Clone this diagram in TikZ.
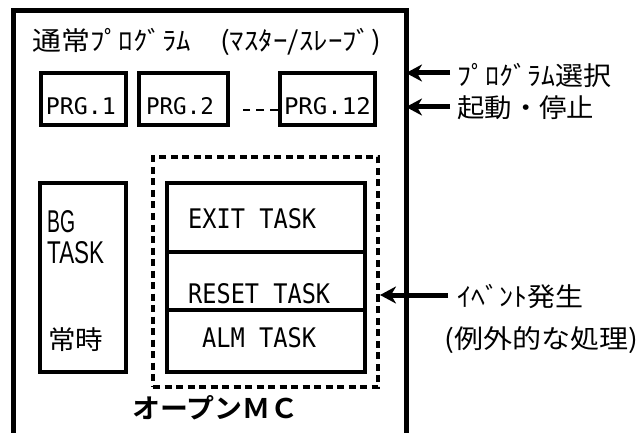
\documentclass[tikz,border=0pt]{standalone}
\usepackage{fontspec}
\usepackage{graphicx}
\setmainfont{Noto Sans CJK JP}
\newfontfamily\jpfont{Noto Sans CJK JP}[BoldFont={Noto Sans CJK JP Bold}]
\newfontfamily\monofont{DejaVu Sans Mono}
\newfontfamily\latinfont{Liberation Sans}
\usetikzlibrary{arrows.meta}

% stretch a text to a given width, keeping its height
\newcommand{\fitw}[2]{\resizebox{#1}{\height}{#2}}
% stretch a text to a given width and height
\newcommand{\fitwh}[3]{\resizebox{#1}{#2}{#3}}

\tikzset{
  frameline/.style={line width=5pt, line join=miter},
  boxline/.style={draw, line width=4pt, rectangle, inner sep=0pt},
  openmc/.style={draw, line width=4pt, dash pattern=on 7pt off 4.5pt, rectangle, inner sep=0pt},
  jp/.style={inner sep=0pt, anchor=west, font=\jpfont\fontsize{26pt}{30pt}\selectfont},
  prgtxt/.style={inner sep=0pt, font=\monofont\fontsize{23pt}{26pt}\selectfont},
  tasktxt/.style={inner sep=0pt, anchor=west, font=\monofont\fontsize{23pt}{26pt}\selectfont},
  bgtxt/.style={inner sep=0pt, anchor=west, font=\latinfont\fontsize{20pt}{24pt}\selectfont},
  bigarrow/.style={line width=5pt, -{Stealth[length=16pt, width=17pt, inset=5pt]}},
  dashlink/.style={line width=2pt, dash pattern=on 8pt off 6pt}
}

\begin{document}
\begin{tikzpicture}[x=1pt, y=-1pt]
\useasboundingbox (0,0) rectangle (638,433);
\fill[white] (0,0) rectangle (638,433);

% outer frame, open at the bottom
\coordinate (fbl) at (13.5,440);
\coordinate (ftl) at (13.5,10.5);
\coordinate (ftr) at (406,10.5);
\coordinate (fbr) at (406,440);
\draw[frameline] (fbl) -- (ftl) -- (ftr) -- (fbr);

\node[jp] (title) at (32,42) {\fitw{349pt}{通常ﾌﾟﾛｸﾞﾗﾑ　(ﾏｽﾀｰ/ｽﾚｰﾌﾞ)}};

% program slots
\node[boxline, minimum width=85pt, minimum height=52pt] (p1) at (83.5,99) {};
\node[boxline, minimum width=89pt, minimum height=52pt] (p2) at (183.5,99) {};
\node[boxline, minimum width=95pt, minimum height=52pt] (p12) at (327.5,99) {};
\node[prgtxt] (p1t) at (81,106.5) {\fitwh{70pt}{17pt}{PRG.1}};
\node[prgtxt] (p2t) at (180,106.5) {\fitwh{68pt}{17pt}{PRG.2}};
\node[prgtxt] (p12t) at (327.5,106.5) {\fitwh{87pt}{17pt}{PRG.12}};
\coordinate (dashend) at (243,110);
\draw[dashlink] (dashend -| p12.west) -- (dashend);

% background task
\node[boxline, minimum width=86pt, minimum height=189pt] (bg) at (83,277.5) {};
\node[bgtxt] (bg1) at (47,222) {\fitwh{28pt}{22pt}{BG}};
\node[bgtxt] (bg2) at (47,253) {\fitwh{57pt}{22pt}{TASK}};
\node[jp] (bg3) at (48,340) {\fitw{55pt}{常時}};

% event tasks
\node[openmc, minimum width=225pt, minimum height=230pt] (omc) at (265.5,272) {};
\node[boxline, minimum width=198pt, minimum height=69pt] (exit) at (266,217.5) {};
\node[boxline, minimum width=198pt, minimum height=58pt] (reset) at (266,281) {};
\node[boxline, minimum width=198pt, minimum height=62pt] (alm) at (266,341) {};
\node[tasktxt] (exitt) at (188,219) {\fitwh{128pt}{20pt}{EXIT TASK}};
\node[tasktxt] (resett) at (188,294) {\fitwh{142pt}{20pt}{RESET TASK}};
\node[tasktxt] (almt) at (202,338) {\fitwh{114pt}{20pt}{ALM TASK}};
\node[inner sep=0pt, anchor=west, font=\jpfont\bfseries\fontsize{27pt}{30pt}\selectfont] (omct) at (132,408) {\fitw{166pt}{オープンＭＣ}};

% external requests
\node[jp] (sel) at (457,75) {\fitw{154pt}{ﾌﾟﾛｸﾞﾗﾑ選択}};
\node[jp] (run) at (457,108) {\fitw{137pt}{起動・停止}};
\coordinate (selt) at (450,73);
\coordinate (runt) at (450,107);
\draw[bigarrow] (selt) -- (selt -| fbr);
\draw[bigarrow] (runt) -- (runt -| fbr);

\node[jp] (evt) at (457,297) {\fitw{126pt}{ｲﾍﾞﾝﾄ発生}};
\node[jp] (evt2) at (444,340) {\fitw{194pt}{(例外的な処理)}};
\coordinate (evtt) at (448,295);
\draw[bigarrow] (evtt) -- (evtt -| omc.east);
\end{tikzpicture}
\end{document}
